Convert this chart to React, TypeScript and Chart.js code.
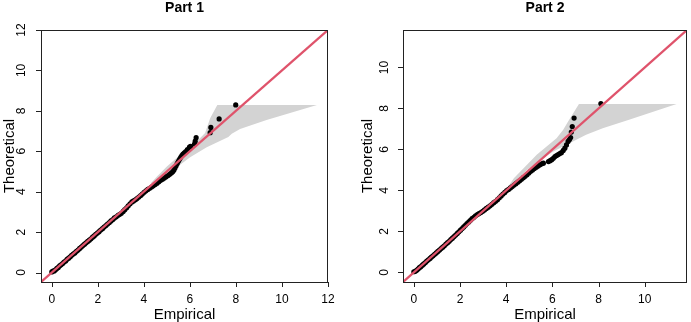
import React, { useEffect, useRef } from "react";
import { Chart, registerables } from "chart.js";

Chart.register(...registerables);

// Part 1: empirical vs theoretical quantiles
const part1Empirical = [
  0.0, 0.05, 0.1, 0.16, 0.22, 0.28, 0.34, 0.4, 0.47, 0.53, 0.6, 0.66, 0.73, 0.8, 0.86, 0.93,
  1.0, 1.07, 1.14, 1.21, 1.28, 1.35, 1.42, 1.49, 1.56, 1.63, 1.7, 1.77, 1.84, 1.91, 1.98,
  2.05, 2.12, 2.2, 2.27, 2.35, 2.42, 2.5, 2.57, 2.65, 2.72, 2.8, 2.88, 2.95, 3.02, 3.1,
  3.17, 3.25, 3.32, 3.4, 3.48, 3.55, 3.63, 3.7, 3.78, 3.86, 3.93, 4.01, 4.09, 4.17, 4.25,
  4.33, 4.41, 4.49, 4.57, 4.65, 4.73, 4.81, 4.89, 4.97, 5.05, 5.12, 5.19, 5.25, 5.3, 5.35,
  5.4, 5.45, 5.5, 5.55, 5.6, 5.65, 5.7, 5.76, 5.82, 5.89, 5.98, 6.03, 6.2, 6.23, 6.27,
  6.88, 6.91, 7.27, 7.99,
];
const part1Theoretical = [
  0.03, 0.07, 0.08, 0.13, 0.2, 0.25, 0.33, 0.38, 0.44, 0.52, 0.57, 0.65, 0.71, 0.78, 0.85, 0.91,
  0.97, 1.05, 1.11, 1.19, 1.26, 1.33, 1.4, 1.47, 1.54, 1.6, 1.67, 1.75, 1.81, 1.89, 1.95,
  2.02, 2.1, 2.17, 2.25, 2.32, 2.4, 2.47, 2.55, 2.62, 2.7, 2.76, 2.83, 2.88, 2.93, 3.02,
  3.11, 3.2, 3.3, 3.4, 3.49, 3.54, 3.6, 3.66, 3.73, 3.81, 3.88, 3.97, 4.04, 4.11, 4.17,
  4.23, 4.29, 4.36, 4.42, 4.49, 4.56, 4.62, 4.68, 4.74, 4.8, 4.86, 4.92, 4.98, 5.06, 5.17,
  5.28, 5.4, 5.5, 5.6, 5.7, 5.79, 5.86, 5.92, 5.98, 6.08, 6.2, 6.24, 6.36, 6.5, 6.67,
  6.92, 7.18, 7.6, 8.29,
];

// Part 1 envelope: upper edge left to right, then lower edge right to left
const part1BandX = [4.3, 4.57, 5.0, 5.58, 6.01, 6.37, 6.66, 6.88, 7.19, 11.52, 9.33, 8.18, 7.82, 7.67, 6.73, 6.01, 5.43, 4.85, 4.4];
const part1BandY = [4.42, 4.75, 5.25, 5.83, 6.24, 6.57, 6.9, 7.63, 8.29, 8.29, 7.55, 7.1, 6.86, 6.7, 6.2, 5.7, 5.21, 4.8, 4.4];

// Part 2: empirical vs theoretical quantiles
const part2Empirical = [
  0.0, 0.06, 0.12, 0.18, 0.24, 0.3, 0.37, 0.43, 0.5, 0.56, 0.63, 0.7, 0.76, 0.83, 0.9, 0.97,
  1.04, 1.11, 1.18, 1.25, 1.32, 1.39, 1.46, 1.53, 1.6, 1.67, 1.74, 1.81, 1.88, 1.95, 2.02,
  2.09, 2.16, 2.23, 2.3, 2.38, 2.45, 2.52, 2.6, 2.67, 2.75, 2.82, 2.9, 2.98, 3.06, 3.14,
  3.22, 3.3, 3.38, 3.46, 3.54, 3.62, 3.7, 3.78, 3.86, 3.94, 4.02, 4.1, 4.18, 4.26, 4.34,
  4.42, 4.5, 4.58, 4.66, 4.74, 4.82, 4.9, 4.98, 5.06, 5.14, 5.22, 5.3, 5.38, 5.46, 5.54,
  5.61, 5.83, 5.9, 5.97, 6.04, 6.11, 6.18, 6.25, 6.32, 6.39, 6.47, 6.54, 6.61, 6.68, 6.74,
  6.79, 6.82, 6.86, 6.94, 8.1,
];
const part2Theoretical = [
  0.03, 0.05, 0.1, 0.16, 0.23, 0.28, 0.35, 0.41, 0.48, 0.55, 0.61, 0.68, 0.75, 0.81, 0.88, 0.95,
  1.02, 1.09, 1.16, 1.23, 1.3, 1.38, 1.45, 1.52, 1.6, 1.67, 1.75, 1.82, 1.9, 1.98, 2.06,
  2.14, 2.22, 2.3, 2.38, 2.46, 2.54, 2.62, 2.69, 2.76, 2.82, 2.87, 2.92, 2.98, 3.05, 3.12,
  3.18, 3.25, 3.32, 3.4, 3.47, 3.55, 3.64, 3.73, 3.82, 3.9, 3.99, 4.05, 4.12, 4.19, 4.26,
  4.33, 4.4, 4.47, 4.54, 4.62, 4.69, 4.77, 4.85, 4.93, 5.0, 5.07, 5.13, 5.19, 5.25, 5.3,
  5.33, 5.41, 5.45, 5.5, 5.57, 5.65, 5.7, 5.75, 5.8, 5.84, 5.95, 6.06, 6.22, 6.39, 6.48,
  6.58, 6.85, 7.12, 7.53, 8.24,
];

// Part 2 envelope: upper edge left to right, then lower edge right to left
const part2BandX = [4.0, 4.33, 4.9, 5.32, 5.75, 6.18, 6.47, 6.68, 7.15, 11.38, 9.32, 8.18, 7.46, 6.89, 6.04, 5.47, 4.9, 4.4, 4.05];
const part2BandY = [4.05, 4.59, 5.25, 5.74, 6.14, 6.55, 6.96, 7.37, 8.22, 8.22, 7.45, 7.04, 6.72, 6.39, 5.9, 5.49, 5.0, 4.45, 4.02];

const part1Ticks = [0, 2, 4, 6, 8, 10, 12];
const part2Ticks = [0, 2, 4, 6, 8, 10];

const FONT = "'Liberation Sans', Arial, Helvetica, sans-serif";
const LINE_RED = "#DF536B";
const BAND_GREY = "#D3D3D3";

type PanelProps = {
  title: string;
  empirical: number[];
  theoretical: number[];
  bandX: number[];
  bandY: number[];
  ticks: number[];
  axisMin: number;
  axisMax: number;
  width: number;
  padding: { left: number; right: number; top: number; bottom: number };
  yLabelOffset: number;
  yTitleOffset: number;
};

function QQPanel(props: PanelProps) {
  const ref = useRef<HTMLCanvasElement | null>(null);

  useEffect(() => {
    const canvas = ref.current;
    if (!canvas) return;
    const { empirical, theoretical, bandX, bandY, ticks, axisMin, axisMax } = props;

    const points = empirical.map((x, i) => ({ x, y: theoretical[i] }));
    const band = bandX.map((x, i) => ({ x, y: bandY[i] }));
    band.push({ x: bandX[0], y: bandY[0] });
    // y = x reference line, extended past the plot region and clipped by it
    const identity = [
      { x: axisMin - 1, y: axisMin - 1 },
      { x: axisMax + 1, y: axisMax + 1 },
    ];

    const framePlugin = {
      id: "rFrame",
      afterDraw(chart: any) {
        const ctx = chart.ctx as CanvasRenderingContext2D;
        const { left, right, top, bottom } = chart.chartArea;
        const xs = chart.scales.x;
        const ys = chart.scales.y;
        ctx.save();
        ctx.strokeStyle = "#222";
        ctx.lineWidth = 1;
        ctx.strokeRect(Math.round(left) + 0.5, Math.round(top) + 0.5, Math.round(right - left) - 1, Math.round(bottom - top));

        ctx.fillStyle = "#000";
        ctx.font = `12px ${FONT}`;
        // x axis ticks
        ctx.beginPath();
        for (const t of ticks) {
          const px = Math.round(xs.getPixelForValue(t)) + 0.5;
          ctx.moveTo(px, bottom);
          ctx.lineTo(px, bottom + 5);
        }
        // y axis ticks
        for (const t of ticks) {
          const py = Math.round(ys.getPixelForValue(t)) + 0.5;
          ctx.moveTo(left, py);
          ctx.lineTo(left - 5, py);
        }
        ctx.stroke();

        ctx.textAlign = "center";
        ctx.textBaseline = "middle";
        for (const t of ticks) {
          ctx.fillText(String(t), xs.getPixelForValue(t), bottom + 17.5);
        }
        for (const t of ticks) {
          ctx.save();
          ctx.translate(left - props.yLabelOffset, ys.getPixelForValue(t));
          ctx.rotate(-Math.PI / 2);
          ctx.fillText(String(t), 0, 0);
          ctx.restore();
        }

        // axis titles
        const cx = (left + right) / 2;
        const cy = (top + bottom) / 2;
        ctx.font = `15px ${FONT}`;
        ctx.fillText("Empirical", cx, bottom + 33);
        ctx.save();
        ctx.translate(left - props.yTitleOffset, cy);
        ctx.rotate(-Math.PI / 2);
        ctx.fillText("Theoretical", 0, 0);
        ctx.restore();

        // panel title
        ctx.font = `bold 14px ${FONT}`;
        ctx.fillText(props.title, cx, 8.5);
        ctx.restore();
      },
    };

    const chart = new Chart(canvas, {
      type: "scatter",
      data: {
        datasets: [
          {
            type: "line",
            data: identity,
            borderColor: LINE_RED,
            borderWidth: 2.3,
            pointRadius: 0,
            fill: false,
          } as any,
          {
            data: points,
            backgroundColor: "#000",
            borderWidth: 0,
            pointRadius: 2.6,
          },
          {
            type: "line",
            data: band,
            borderWidth: 0,
            borderColor: "rgba(0,0,0,0)",
            backgroundColor: BAND_GREY,
            pointRadius: 0,
            fill: "shape",
            tension: 0,
          } as any,
        ],
      },
      options: {
        animation: false,
        responsive: false,
        layout: { padding: props.padding },
        plugins: {
          legend: { display: false },
          tooltip: { enabled: false },
        },
        scales: {
          x: { type: "linear", min: axisMin, max: axisMax, display: false },
          y: { type: "linear", min: axisMin, max: axisMax, display: false },
        },
      },
      plugins: [framePlugin],
    });

    return () => chart.destroy();
  }, []);

  return <canvas ref={ref} width={props.width} height={322} style={{ display: "block" }} />;
}

export default function App() {
  return (
    <div style={{ position: "fixed", left: 0, top: 0, width: 691, height: 322, display: "flex", background: "#fff" }}>
      <QQPanel
        title="Part 1"
        empirical={part1Empirical}
        theoretical={part1Theoretical}
        bandX={part1BandX}
        bandY={part1BandY}
        ticks={part1Ticks}
        axisMin={-0.47}
        axisMax={12}
        width={345}
        padding={{ left: 41, right: 17, top: 30, bottom: 40 }}
        yLabelOffset={19}
        yTitleOffset={31}
      />
      <QQPanel
        title="Part 2"
        empirical={part2Empirical}
        theoretical={part2Theoretical}
        bandX={part2BandX}
        bandY={part2BandY}
        ticks={part2Ticks}
        axisMin={-0.47}
        axisMax={11.83}
        width={346}
        padding={{ left: 58, right: 1, top: 30, bottom: 40 }}
        yLabelOffset={18}
        yTitleOffset={35}
      />
    </div>
  );
}
